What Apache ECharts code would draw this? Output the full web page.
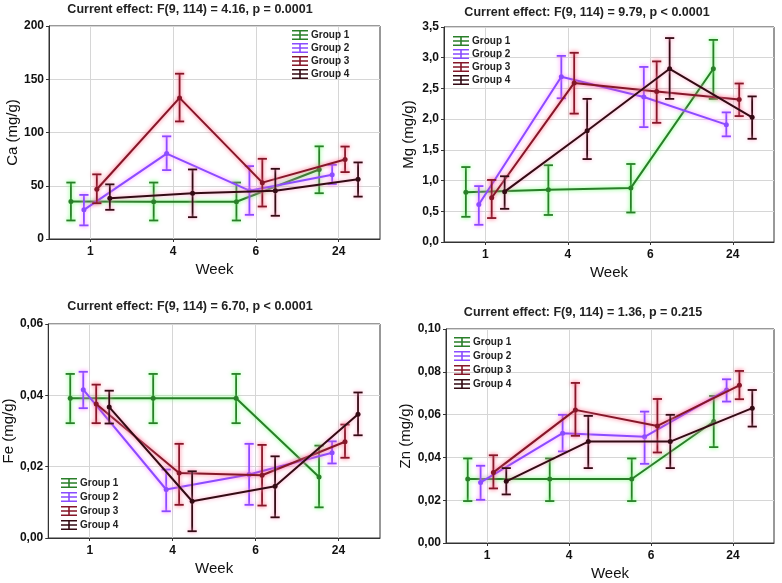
<!DOCTYPE html>
<html lang="en">
<head>
<meta charset="UTF-8">
<title>Ca, Mg, Fe, Zn by week</title>
<style>
    html, body { margin: 0; padding: 0; background: #fff; }
    #main { width: 782px; height: 583px; }
</style>
</head>
<body>
<div id="main"></div>
<script src="https://cdn.jsdelivr.net/npm/echarts@6/dist/echarts.min.js"></script>
<script>
    var weeks = ['1', '4', '6', '24'];
    var groups = ['Group 1', 'Group 2', 'Group 3', 'Group 4'];

    // Ca (mg/g): one row per group, one value per week
    var caMean = [[35.1, 35, 35, 65.3], [27.4, 80.2, 45.4, 60.3], [46.7, 132.5, 52.9, 74.7], [38.3, 42.9, 45.4, 56]];
    var caLow = [[17.4, 17.4, 17.4, 43], [12.8, 64.7, 22.7, 51.6], [33.6, 110.4, 30.5, 62.8], [27.4, 20.5, 21.8, 39.8]];
    var caHigh = [[53, 53, 53, 87], [41.4, 96.4, 68.4, 69.7], [60.7, 155.2, 75.3, 86.8], [51.3, 65.3, 65.9, 71.9]];

    // Mg (mg/g)
    var mgMean = [[0.81, 0.85, 0.88, 2.82], [0.61, 2.69, 2.36, 1.91], [0.72, 2.59, 2.45, 2.32], [0.82, 1.81, 2.82, 2.03]];
    var mgLow = [[0.41, 0.44, 0.48, 2.33], [0.28, 2.34, 1.87, 1.72], [0.39, 2.09, 1.94, 2.05], [0.54, 1.35, 2.33, 1.68]];
    var mgHigh = [[1.22, 1.25, 1.27, 3.29], [0.91, 3.03, 2.85, 2.11], [1.01, 3.08, 2.94, 2.58], [1.07, 2.33, 3.32, 2.37]];

    // Fe (mg/g)
    var feMean = [[0.0392, 0.0392, 0.0392, 0.0171], [0.0416, 0.0136, 0.0178, 0.0239], [0.0376, 0.0182, 0.0176, 0.027], [0.0367, 0.0103, 0.0145, 0.0347]];
    var feLow = [[0.0322, 0.0322, 0.0322, 0.0086], [0.0364, 0.0075, 0.0093, 0.0209], [0.0322, 0.0093, 0.0091, 0.0225], [0.0321, 0.0019, 0.0058, 0.0288]];
    var feHigh = [[0.046, 0.046, 0.046, 0.0259], [0.0466, 0.0192, 0.0264, 0.0271], [0.043, 0.0264, 0.0261, 0.0318], [0.0413, 0.0187, 0.0229, 0.0408]];

    // Zn (mg/g)
    var znMean = [[0.0299, 0.0299, 0.0299, 0.0568], [0.0283, 0.0513, 0.0496, 0.0715], [0.033, 0.0622, 0.0547, 0.0737], [0.0288, 0.0474, 0.0474, 0.063]];
    var znLow = [[0.0196, 0.0196, 0.0196, 0.0448], [0.0202, 0.0428, 0.037, 0.0661], [0.0255, 0.0501, 0.0423, 0.0672], [0.0227, 0.035, 0.035, 0.0544]];
    var znHigh = [[0.0395, 0.0395, 0.0395, 0.0687], [0.0361, 0.0599, 0.0614, 0.0765], [0.041, 0.0748, 0.0673, 0.0804], [0.035, 0.0594, 0.0599, 0.0715]];

    var caTicks = ['0', '50', '100', '150', '200'];
    var mgTicks = ['0,0', '0,5', '1,0', '1,5', '2,0', '2,5', '3,0', '3,5'];
    var feTicks = ['0,00', '0,02', '0,04', '0,06'];
    var znTicks = ['0,00', '0,02', '0,04', '0,06', '0,08', '0,10'];

    // styles
    var lineColors = ['#2a7f2a', '#8a4cff', '#851729', '#330b14'];
    var glowColors = ['#6cff6c', '#ff84ff', '#ff5a7a', '#ff9cc0'];
    var groupOffset = [-0.235, -0.078, 0.078, 0.235];   // in category widths
    var fontFamily = '"Liberation Sans", Arial, sans-serif';

    var panels = [
        {
            title: 'Current effect: F(9, 114) = 4.16, p = 0.0001', name: 'Ca (mg/g)',
            mean: caMean, low: caLow, high: caHigh, ticks: caTicks, interval: 50,
            grid: {left: 49, top: 26, width: 331, height: 213}, titleX: 190, titleY: 10,
            nameGap: 29, legend: {left: 292, top: 30, itemGap: 3}
        },
        {
            title: 'Current effect: F(9, 114) = 9.79, p < 0.0001', name: 'Mg (mg/g)',
            mean: mgMean, low: mgLow, high: mgHigh, ticks: mgTicks, interval: 0.5,
            grid: {left: 444, top: 27, width: 330, height: 215}, titleX: 587, titleY: 13,
            nameGap: 28, legend: {left: 453, top: 36, itemGap: 3}
        },
        {
            title: 'Current effect: F(9, 114) = 6.70, p < 0.0001', name: 'Fe (mg/g)',
            mean: feMean, low: feLow, high: feHigh, ticks: feTicks, interval: 0.02,
            grid: {left: 42, top: 324, width: 338, height: 214}, titleX: 190, titleY: 307,
            nameGap: 25, legend: {left: 61, top: 478, itemGap: 4}
        },
        {
            title: 'Current effect: F(9, 114) = 1.36, p = 0.215', name: 'Zn (mg/g)',
            mean: znMean, low: znLow, high: znHigh, ticks: znTicks, interval: 0.02,
            grid: {left: 446, top: 329, width: 328, height: 214}, titleX: 583, titleY: 313,
            nameGap: 32, legend: {left: 454, top: 337, itemGap: 4}
        }
    ];

    // category axis with a blank slot between weeks, so labels sit on band centres
    var slots = [];
    for (var i = 0; i < weeks.length; i++) {
        slots.push('s' + (2 * i));
        slots.push(weeks[i]);
    }
    slots.push('s' + (2 * weeks.length));
    function onWeek(index) {
        return index % 2 === 1;
    }

    var errorIcon = 'path://M0,0H16V1.6H0Z M7.2,0H8.8V10H7.2Z M0,4.2H16V5.8H0Z M0,8.4H16V10H0Z';

    var grids = [], xAxes = [], yAxes = [], legends = [], graphics = [];
    var lineSeries = [], errorSeries = [];

    panels.forEach(function (p, pi) {
        grids.push({
            left: p.grid.left, top: p.grid.top, width: p.grid.width, height: p.grid.height,
            show: true, borderColor: '#333', borderWidth: 1
        });
        xAxes.push({
            type: 'category', gridIndex: pi, data: slots, boundaryGap: false,
            name: 'Week', nameLocation: 'middle', nameGap: 23,
            nameTextStyle: {fontFamily: fontFamily, fontSize: 15, color: '#111'},
            axisLine: {lineStyle: {color: '#333'}},
            axisTick: {interval: onWeek, length: 3, lineStyle: {color: '#333'}},
            axisLabel: {
                interval: onWeek, margin: 7, color: '#111',
                fontFamily: fontFamily, fontSize: 12, fontWeight: 700
            },
            splitLine: {show: true, interval: onWeek, lineStyle: {color: '#d6d6d6'}}
        });
        xAxes.push({
            type: 'value', gridIndex: pi, min: 0, max: slots.length - 1, show: false
        });
        yAxes.push({
            type: 'value', gridIndex: pi, min: 0,
            max: p.interval * (p.ticks.length - 1), interval: p.interval,
            name: p.name, nameLocation: 'middle', nameGap: p.nameGap,
            nameTextStyle: {fontFamily: fontFamily, fontSize: 15, color: '#111'},
            axisLine: {show: true, lineStyle: {color: '#333'}},
            axisTick: {show: true, length: 3, lineStyle: {color: '#333'}},
            axisLabel: {
                margin: 5, color: '#111', fontFamily: fontFamily, fontSize: 12, fontWeight: 700,
                formatter: function (v) {
                    return p.ticks[Math.round(v / p.interval)];
                }
            },
            splitLine: {show: true, lineStyle: {color: '#d6d6d6'}}
        });
        legends.push({
            data: groups, orient: 'vertical', left: p.legend.left, top: p.legend.top,
            itemGap: p.legend.itemGap, itemWidth: 16, itemHeight: 10, padding: 0,
            icon: errorIcon, selectedMode: false,
            textStyle: {fontFamily: fontFamily, fontSize: 10, fontWeight: 'bold', color: '#222', padding: [0, 0, 0, -2]}
        });
        graphics.push({
            type: 'text', x: p.titleX, y: p.titleY,
            style: {
                text: p.title, textAlign: 'center', textVerticalAlign: 'middle',
                font: 'bold 12.5px ' + fontFamily, fill: '#222'
            }
        });

        groups.forEach(function (g, gi) {
            var pts = [], bars = [];
            for (var w = 0; w < weeks.length; w++) {
                var x = 2 * w + 1 + 2 * groupOffset[gi];
                pts.push([x, p.mean[gi][w]]);
                bars.push([x, p.low[gi][w], p.high[gi][w]]);
            }
            lineSeries.push({
                type: 'line', name: g, xAxisIndex: 2 * pi + 1, yAxisIndex: pi,
                data: pts, symbol: 'circle', symbolSize: 5, z: 3 + gi,
                itemStyle: {color: lineColors[gi]},
                lineStyle: {width: 2, color: lineColors[gi], shadowBlur: 4, shadowColor: glowColors[gi]},
                emphasis: {disabled: true}, animation: false
            });
            errorSeries.push({
                type: 'custom', name: g, xAxisIndex: 2 * pi + 1, yAxisIndex: pi,
                data: bars, encode: {x: 0, y: [1, 2]}, z: 3 + gi,
                itemStyle: {color: lineColors[gi]},
                renderItem: function (params, api) {
                    var x = api.value(0);
                    var lo = api.coord([x, api.value(1)]);
                    var hi = api.coord([x, api.value(2)]);
                    var cap = 4.6;
                    var style = {
                        stroke: lineColors[gi], lineWidth: 1.8,
                        shadowBlur: 4, shadowColor: glowColors[gi]
                    };
                    return {
                        type: 'group',
                        children: [
                            {type: 'line', shape: {x1: lo[0], y1: lo[1], x2: hi[0], y2: hi[1]}, style: style},
                            {type: 'line', shape: {x1: hi[0] - cap, y1: hi[1], x2: hi[0] + cap, y2: hi[1]}, style: style},
                            {type: 'line', shape: {x1: lo[0] - cap, y1: lo[1], x2: lo[0] + cap, y2: lo[1]}, style: style}
                        ]
                    };
                },
                animation: false
            });
        });
    });

    var chart = echarts.init(document.getElementById('main'));
    chart.setOption({
        backgroundColor: '#fff',
        animation: false,
        grid: grids,
        xAxis: xAxes,
        yAxis: yAxes,
        legend: legends,
        graphic: graphics,
        series: lineSeries.concat(errorSeries)
    });
</script>
</body>
</html>
